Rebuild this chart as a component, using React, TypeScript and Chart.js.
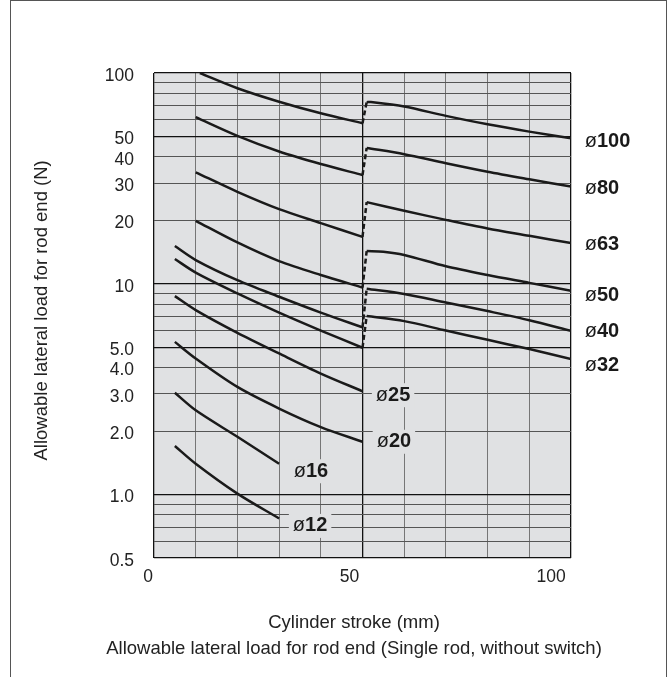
import React, { useEffect, useRef } from 'react';
import { Chart, registerables } from 'chart.js';

Chart.register(...registerables);

const FONT = '"Liberation Sans", Arial, Helvetica, sans-serif';
const INK = '#1a1a1a';
const PLOT_BG = '#e0e1e3';

// X axis: stroke (mm)
const strokeLabelValues = [0, 50, 100];
// Y axis: allowable lateral load (N)
const loadLabelValues = [0.5, 1, 2, 3, 4, 5, 10, 20, 30, 40, 50, 100];
const loadLabelTexts = ['0.5', '1.0', '2.0', '3.0', '4.0', '5.0', '10', '20', '30', '40', '50', '100'];
const majorLoads = [0.5, 1, 5, 10, 50, 100];
const majorStrokes = [0, 50, 100];

// Curves [stroke mm, load N]
const d100L = [[11, 100], [20, 84.7], [30, 73.1], [40, 64.4], [50, 57.8]];
const d100R = [[51, 72.7], [52, 72.8], [60, 69.3], [70, 62.6], [80, 57.1], [90, 52.7], [100, 49.0]];
const d80L = [[10, 61.7], [20, 50.3], [30, 42.4], [40, 37.0], [50, 32.8]];
const d80R = [[51, 44.1], [60, 41.2], [70, 37.3], [80, 34.0], [90, 31.3], [100, 28.9]];
const d63L = [[10, 33.8], [20, 27.3], [30, 22.6], [40, 19.4], [50, 16.7]];
const d63R = [[51, 24.4], [60, 22.2], [70, 20.1], [80, 18.3], [90, 16.9], [100, 15.6]];
const d50L = [[10, 19.9], [20, 15.7], [30, 12.8], [40, 11.0], [50, 9.6]];
const d50R = [[51, 14.3], [55, 14.2], [60, 13.7], [70, 12.1], [80, 11.0], [90, 10.1], [100, 9.27]];
const d40L = [[5, 15.1], [10, 12.96], [20, 10.4], [30, 8.68], [40, 7.3], [50, 6.21]];
const d40R = [[51, 9.47], [60, 8.95], [70, 8.15], [80, 7.42], [90, 6.72], [100, 5.98]];
const d32L = [[5, 13.1], [10, 11.3], [20, 9.0], [30, 7.3], [40, 6.0], [50, 4.97]];
const d32R = [[51, 7.03], [60, 6.65], [70, 6.0], [80, 5.42], [90, 4.9], [100, 4.4]];
const d25 = [[5, 8.74], [10, 7.5], [20, 5.85], [30, 4.67], [40, 3.75], [50, 3.09]];
const d20 = [[5, 5.3], [10, 4.42], [20, 3.24], [30, 2.56], [40, 2.09], [50, 1.78]];
const d16 = [[5, 3.04], [10, 2.51], [20, 1.88], [30, 1.4]];
const d12 = [[5, 1.7], [10, 1.4], [20, 1.01], [30, 0.77]];

// Bore labels and their anchor (stroke, load)
const boreNames = ['100', '80', '63', '50', '40', '32', '25', '20', '16', '12'];
const labelStroke = [103.3, 103.3, 103.3, 103.3, 103.3, 103.3, 53.2, 53.4, 33.5, 33.3];
const labelLoad = [47.2, 28.4, 15.4, 8.84, 5.92, 4.11, 2.96, 1.78, 1.29, 0.71];

const pts = (a: number[][]) => a.map(([x, y]) => ({ x, y }));
const solid = (a: number[][]) => ({
  data: pts(a),
  borderColor: INK,
  borderWidth: 2.5,
  pointRadius: 0,
  tension: 0.3,
  fill: false,
  xAxisID: 'x',
  yAxisID: 'y',
});
const dashed = (l: number[][], r: number[][]) => ({
  data: pts([l[l.length - 1], r[0]]),
  borderColor: INK,
  borderWidth: 2.5,
  borderDash: [5, 3],
  pointRadius: 0,
  tension: 0,
  fill: false,
  xAxisID: 'x',
  yAxisID: 'y',
});

const bgPlugin = {
  id: 'bg',
  beforeDraw(chart: any) {
    const { ctx, chartArea: a } = chart;
    ctx.save();
    ctx.fillStyle = '#ffffff';
    ctx.fillRect(0, 0, chart.width, chart.height);
    ctx.fillStyle = PLOT_BG;
    ctx.fillRect(a.left, a.top, a.right - a.left, a.bottom - a.top);
    ctx.restore();
  },
};

const labelPlugin = {
  id: 'boreLabels',
  afterDatasetsDraw(chart: any) {
    const { ctx, chartArea: a } = chart;
    const xs = chart.scales.x;
    const ys = chart.scales.y;
    const reg = `20px ${FONT}`;
    const bold = `bold 20px ${FONT}`;
    ctx.save();
    ctx.textBaseline = 'middle';
    ctx.textAlign = 'left';
    boreNames.forEach((name, i) => {
      const px = xs.getPixelForValue(labelStroke[i]);
      const py = ys.getPixelForValue(labelLoad[i]);
      ctx.font = reg;
      const w1 = ctx.measureText('ø').width;
      ctx.font = bold;
      const w2 = ctx.measureText(name).width;
      if (px < a.right) {
        ctx.fillStyle = PLOT_BG;
        ctx.fillRect(px - 4, py - 12, w1 + w2 + 8, 24);
      }
      ctx.fillStyle = INK;
      ctx.font = reg;
      ctx.fillText('ø', px, py);
      ctx.font = bold;
      ctx.fillText(name, px + w1, py);
    });
    ctx.restore();
  },
};

function buildLoadGrid() {
  const vals: number[] = [];
  for (const dec of [0.1, 1, 10]) {
    for (let k = 1; k <= 9; k++) {
      const v = +(k * dec).toFixed(2);
      if (v >= 0.5 && v <= 100) vals.push(v);
    }
  }
  vals.push(100);
  return vals;
}

const isMajor = (list: number[], v: number) => list.some((m) => Math.abs(m - v) < 1e-6);

export default function App() {
  const ref = useRef<HTMLCanvasElement | null>(null);

  useEffect(() => {
    if (!ref.current) return;
    Chart.defaults.font.family = FONT;
    const loadGrid = buildLoadGrid();
    const datasets: any[] = [
      solid(d100L), dashed(d100L, d100R), solid(d100R),
      solid(d80L), dashed(d80L, d80R), solid(d80R),
      solid(d63L), dashed(d63L, d63R), solid(d63R),
      solid(d50L), dashed(d50L, d50R), solid(d50R),
      solid(d40L), dashed(d40L, d40R), solid(d40R),
      solid(d32L), dashed(d32L, d32R), solid(d32R),
      solid(d25), solid(d20), solid(d16), solid(d12),
    ];
    const chart = new Chart(ref.current, {
      type: 'line',
      data: { datasets },
      plugins: [bgPlugin, labelPlugin],
      options: {
        responsive: false,
        animation: false,
        events: [],
        layout: { padding: { left: 36, right: 0, top: 73, bottom: 14.91 } },
        plugins: {
          legend: { display: false },
          tooltip: { enabled: false },
          title: {
            display: true,
            position: 'bottom',
            fullSize: true,
            text: ['Cylinder stroke (mm)', 'Allowable lateral load for rod end (Single rod, without switch)'],
            color: '#222',
            font: { size: 18.5, weight: 'normal', lineHeight: 1.42 },
            padding: { top: 13.55, bottom: 0 },
          },
        },
        scales: {
          x: {
            type: 'linear',
            position: 'bottom',
            min: 0,
            max: 100,
            ticks: { display: false, stepSize: 10 },
            grid: {
              drawTicks: false,
              color: (c: any) => (isMajor(majorStrokes, c.tick?.value) ? '#111111' : '#767676'),
              lineWidth: (c: any) => (isMajor(majorStrokes, c.tick?.value) ? 1.3 : 1),
            },
            border: { display: false },
          },
          x2: {
            type: 'linear',
            position: 'bottom',
            min: 1.489,
            max: 104.96,
            afterBuildTicks: (s: any) => {
              s.ticks = strokeLabelValues.map((v) => ({ value: v }));
            },
            grid: { display: false, drawTicks: false },
            border: { display: false },
            ticks: {
              autoSkip: false,
              maxRotation: 0,
              padding: 8.5,
              color: '#222',
              font: { size: 17.5 },
              callback: (v: any) => String(v),
            },
          },
          y: {
            type: 'logarithmic',
            min: 0.5,
            max: 100,
            afterFit: (s: any) => {
              s.width = 118;
            },
            afterBuildTicks: (s: any) => {
              s.ticks = loadGrid.map((v) => ({ value: v, major: isMajor(majorLoads, v) }));
            },
            ticks: {
              autoSkip: false,
              padding: 20,
              labelOffset: 3,
              color: '#222',
              font: { size: 17.5 },
              callback: (v: any) => {
                const idx = loadLabelValues.findIndex((t) => Math.abs(t - v) < 1e-6);
                return idx >= 0 ? loadLabelTexts[idx] : '';
              },
            },
            grid: {
              drawTicks: false,
              color: (c: any) => (isMajor(majorLoads, c.tick?.value) ? '#111111' : '#555555'),
              lineWidth: (c: any) => (isMajor(majorLoads, c.tick?.value) ? 1.3 : 1),
            },
            border: { display: false },
            title: {
              display: true,
              text: '  Allowable lateral load for rod end (N)',
              color: '#222',
              font: { size: 18.5, lineHeight: 0.5 },
              padding: { top: 1.4, bottom: 0 },
            },
          },
          yR: {
            type: 'linear',
            position: 'right',
            afterFit: (s: any) => {
              s.width = 101;
            },
            grid: { display: false, drawTicks: false },
            border: { display: false },
            ticks: { display: false },
          },
        },
      } as any,
    });
    return () => chart.destroy();
  }, []);

  return (
    <div style={{ position: 'absolute', left: 0, top: 0, width: 672, height: 677, overflow: 'hidden', background: '#fff' }}>
      <canvas ref={ref} width={672} height={677} style={{ position: 'absolute', left: 0, top: 0, width: 672, height: 677 }} />
      <div
        style={{
          position: 'absolute',
          left: 10,
          top: 0,
          width: 657,
          height: 720,
          borderLeft: '1.3px solid #555',
          borderRight: '1.3px solid #555',
          borderTop: '1.3px solid #555',
          boxSizing: 'border-box',
        }}
      />
    </div>
  );
}
